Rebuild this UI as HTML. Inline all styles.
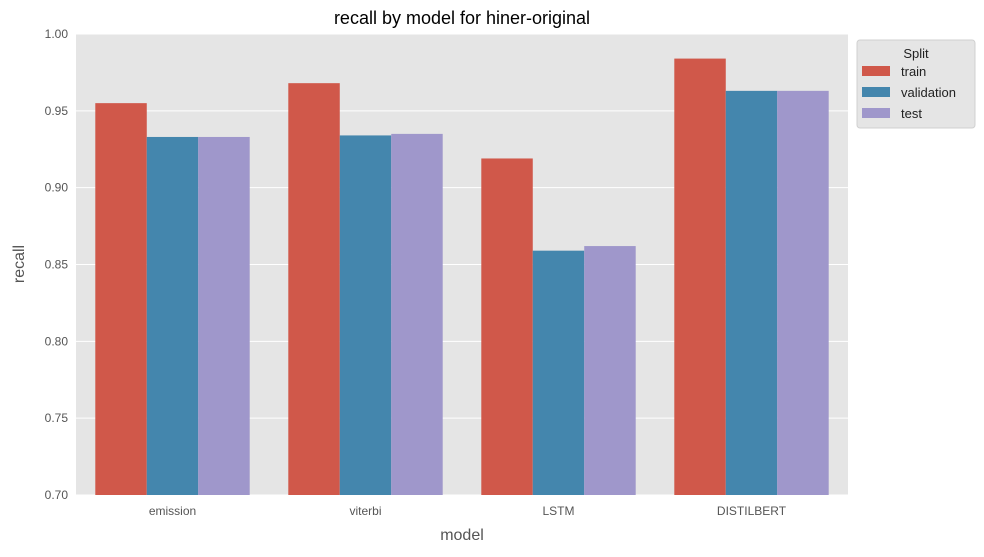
<!DOCTYPE html>
<html><head><meta charset="utf-8"><style>
body{margin:0;background:#fff;width:984px;height:552px;overflow:hidden;font-family:"Liberation Sans","DejaVu Sans",sans-serif}
</style></head><body>
<svg id="c" width="984" height="552" xmlns="http://www.w3.org/2000/svg">
<rect x="76" y="34" width="772" height="461" fill="#e5e5e5"/>
<g id="grid"></g><g id="bars"></g><g id="axes"></g>
<text x="462" y="24" text-anchor="middle" font-size="18" fill="#000">recall by model for hiner-original</text>
<text x="462" y="540" text-anchor="middle" font-size="16" fill="#555">model</text>
<text x="24" y="264" text-anchor="middle" font-size="16" fill="#555" transform="rotate(-90 24 264)">recall</text>
<g>
<rect x="857" y="40" width="118" height="88" rx="3" fill="#e5e5e5" stroke="#d0d0d0"/>
<text x="916" y="58" text-anchor="middle" font-size="13" fill="#222">Split</text>
<g id="leg"></g>
</g>
</svg>
<script>
const categories=["emission","viterbi","LSTM","DISTILBERT"];
const splits=["train","validation","test"];
const trainVals=[0.955,0.968,0.919,0.984];
const validationVals=[0.933,0.934,0.859,0.963];
const testVals=[0.933,0.935,0.862,0.963];
const yTicks=[0.70,0.75,0.80,0.85,0.90,0.95,1.00];
const colors=["#d0584a","#4486ad","#9f97cb"];
const NS="http://www.w3.org/2000/svg";
const x0=76,x1=848,yTop=34,yBot=495,yMin=0.70,yMax=1.00;
const y=v=>yBot-(v-yMin)/(yMax-yMin)*(yBot-yTop);
const step=(x1-x0)/categories.length;
const cx=i=>x0+step*(i+0.5);
function mk(tag,a,p){const e=document.createElementNS(NS,tag);for(const k in a)e.setAttribute(k,a[k]);p.appendChild(e);return e;}
const grid=document.getElementById('grid'),axes=document.getElementById('axes'),bars=document.getElementById('bars'),leg=document.getElementById('leg');
yTicks.forEach(t=>{
 const l=mk('line',{x1:x0,x2:x1,y1:y(t),y2:y(t),stroke:'#fff','stroke-width':1},grid);
 
 
 const tx=mk('text',{x:x0-8,y:y(t)+4,'text-anchor':'end','font-size':12,fill:'#555'},axes);
 tx.textContent=t.toFixed(2);
 
 
});
const series=[trainVals,validationVals,testVals];
const bw=step*0.8/3;
categories.forEach((c,i)=>{
 series.forEach((s,j)=>{
  const bx=cx(i)-step*0.4+j*bw;
  const r=mk('rect',{x:bx,y:y(s[i]),width:bw,height:yBot-y(s[i]),fill:colors[j]},bars);
  
  
 });
 const tx=mk('text',{x:cx(i),y:515,'text-anchor':'middle','font-size':12,fill:'#555'},axes);
 tx.textContent=c;
 
 
});
splits.forEach((s,j)=>{
 const ly=66+j*21;
 const r=mk('rect',{x:862,y:ly,width:28,height:10,fill:colors[j]},leg);
 
 
 const t=mk('text',{x:901,y:ly+10,'font-size':13,fill:'#222'},leg);
 t.textContent=s;
 
 
});
</script>
</body></html>
